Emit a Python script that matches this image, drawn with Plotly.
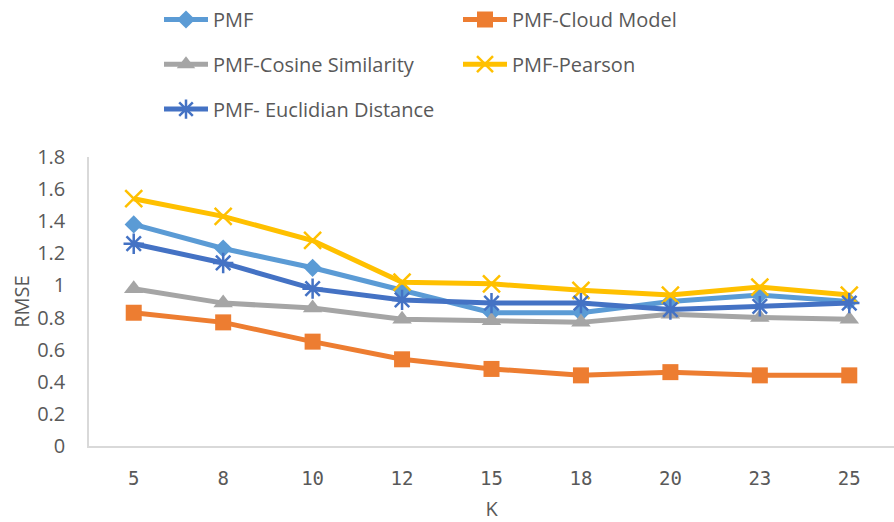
import plotly.graph_objects as go

# K values (number of neighbours) on the category axis
k_values = ["5", "8", "10", "12", "15", "18", "20", "23", "25"]

# RMSE for each method
rmse_pmf = [1.38, 1.23, 1.11, 0.97, 0.83, 0.83, 0.90, 0.94, 0.90]
rmse_cloud = [0.83, 0.77, 0.65, 0.54, 0.48, 0.44, 0.46, 0.44, 0.44]
rmse_cosine = [0.98, 0.89, 0.86, 0.79, 0.78, 0.77, 0.82, 0.80, 0.79]
rmse_pearson = [1.54, 1.43, 1.28, 1.02, 1.01, 0.97, 0.94, 0.99, 0.94]
rmse_euclid = [1.26, 1.14, 0.98, 0.91, 0.89, 0.89, 0.85, 0.87, 0.89]

y_ticks = [0, 0.2, 0.4, 0.6, 0.8, 1.0, 1.2, 1.4, 1.6, 1.8]

FONT = "Open Sans"
MONO = "DejaVu Sans Mono"
TEXT_COLOR = "#595959"

series = [
    ("PMF", rmse_pmf, "#5B9BD5", dict(symbol="diamond", size=14), "legend"),
    ("PMF-Cloud Model", rmse_cloud, "#ED7D31", dict(symbol="square", size=16), "legend"),
    ("PMF-Cosine Similarity", rmse_cosine, "#A5A5A5", dict(symbol="triangle-up", size=17), "legend2"),
    ("PMF-Pearson", rmse_pearson, "#FFC000",
     dict(symbol="x-thin-open", size=17, line=dict(width=2.5, color="#FFC000")), "legend2"),
    ("PMF- Euclidian Distance", rmse_euclid, "#4472C4",
     dict(symbol="asterisk-open", size=17, line=dict(width=2.5, color="#4472C4")), "legend3"),
]

fig = go.Figure()
for name, values, color, marker, leg in series:
    fig.add_trace(go.Scatter(
        x=k_values, y=values, name=name, mode="lines+markers",
        line=dict(color=color, width=5),
        marker=dict(color=color, **marker),
        legend=leg,
    ))

legend_common = dict(
    orientation="h", xref="paper", yref="paper", xanchor="left", yanchor="middle",
    font=dict(family=FONT, size=20, color=TEXT_COLOR),
    entrywidth=240, entrywidthmode="pixels", itemwidth=44,
    bgcolor="rgba(0,0,0,0)", traceorder="normal",
)

x0 = 89
plot_w = 894 - 89
plot_h = 446.5 - 157


def lx(px):
    return (px - x0) / plot_w


def ly(py):
    return (446.5 - py) / plot_h


fig.update_layout(
    width=894, height=522,
    margin=dict(l=89, r=0, t=157, b=75.5),
    paper_bgcolor="white", plot_bgcolor="white",
    font=dict(family=FONT, color=TEXT_COLOR),
    legend=dict(x=lx(159), y=ly(19), **legend_common),
    legend2=dict(x=lx(159), y=ly(64), **legend_common),
    legend3=dict(x=lx(159), y=ly(109), **legend_common),
    xaxis=dict(
        type="category", range=[-0.5, len(k_values) - 0.5],
        showgrid=False, zeroline=False,
        showline=True, linecolor="#D9D9D9", linewidth=1.5,
        ticks="", ticklabelstandoff=14,
        tickfont=dict(family=MONO, size=19, color=TEXT_COLOR),
        title=dict(text="K", font=dict(family=FONT, size=20, color=TEXT_COLOR), standoff=16),
    ),
    yaxis=dict(
        range=[0, 1.8], tickvals=y_ticks,
        showgrid=False, zeroline=False,
        showline=True, linecolor="#D9D9D9", linewidth=1.5,
        ticks="", ticklabelstandoff=18,
        tickfont=dict(family=FONT, size=20, color=TEXT_COLOR),
        title=dict(text="RMSE", font=dict(family=FONT, size=20, color=TEXT_COLOR), standoff=2),
    ),
)

fig.write_html("out.html")
